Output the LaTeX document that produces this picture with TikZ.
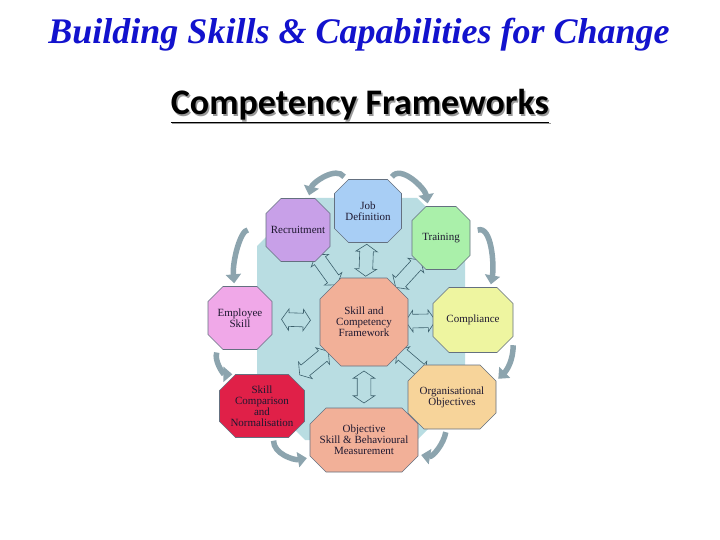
\documentclass[tikz,border=0pt]{standalone}
\usepackage{fontspec}
\setmainfont{Liberation Serif}
\newfontfamily\calibrifont{Carlito}
\usepackage{tikz}
\usetikzlibrary{shapes.arrows,arrows.meta}
\pgfdeclarelayer{backdrop}
\pgfdeclarelayer{links}
\pgfsetlayers{backdrop,links,main}
\definecolor{titleblue}{RGB}{18,18,205}
\definecolor{backblue}{RGB}{185,221,226}
\definecolor{octline}{RGB}{100,112,128}
\definecolor{octtext}{RGB}{30,24,48}
\definecolor{arrline}{RGB}{60,96,108}
\definecolor{cycgray}{RGB}{140,164,174}
\definecolor{jobfill}{RGB}{168,206,245}
\definecolor{recfill}{RGB}{200,160,232}
\definecolor{trainfill}{RGB}{170,240,170}
\definecolor{empfill}{RGB}{240,168,232}
\definecolor{cenfill}{RGB}{242,176,152}
\definecolor{compfill}{RGB}{238,245,160}
\definecolor{scnfill}{RGB}{224,32,72}
\definecolor{orgfill}{RGB}{247,212,154}
\newcommand{\octfont}{\fontsize{11}{11}\selectfont}
\newcommand{\octpath}[4]{% centre, width, height, chamfer
  ({-#2/2+#4},{#3/2}) -- ({#2/2-#4},{#3/2}) -- ({#2/2},{#3/2-#4}) -- ({#2/2},{-#3/2+#4})
  -- ({#2/2-#4},{-#3/2}) -- ({-#2/2+#4},{-#3/2}) -- ({-#2/2},{-#3/2+#4}) -- ({-#2/2},{#3/2-#4}) -- cycle}
\newcommand{\octnode}[7]{% name, centre, width, height, chamfer, fill, text
  \draw[draw=octline, line width=0.6pt, fill=#6, shift={(#2)}] \octpath{#2}{#3}{#4}{#5};
  \node[oct, minimum width=#3, minimum height=#4] (#1) at (#2) {#7};}

\begin{document}
\begin{tikzpicture}[x=1pt,y=1pt,
  oct/.style={rectangle, align=center, inner sep=0pt, font=\octfont, text=octtext},
  dbl/.style={double arrow, draw=arrline, fill=backblue, line width=0.6pt, inner xsep=0pt, inner ysep=6.5pt,
    minimum width=21, minimum height=#1, double arrow head extend=4, double arrow tip angle=112},
  cyc/.style={draw=cycgray, line width=5.5pt, -{Triangle[width=15pt,length=9pt]},
    shorten <=3pt, shorten >=3pt}]
 \useasboundingbox (0,0) rectangle (720,-540);
 \node[anchor=base, text=titleblue, font=\fontsize{36}{40}\selectfont\bfseries\itshape] (title) at (359,-44)
   {Building Skills \& Capabilities for Change};
 \node[anchor=base, text=black!40, font=\fontsize{36}{40}\selectfont\calibrifont\bfseries] (subshadow) at (361.5,-116.5)
   {\underline{Competency Frameworks}};
 \node[anchor=base, text=black, font=\fontsize{36}{40}\selectfont\calibrifont\bfseries] (sub) at (360,-115)
   {\underline{Competency Frameworks}};
 \begin{pgfonlayer}{backdrop}
  \fill[white] (0,0) rectangle (720,-540);
  \fill[backblue, shift={(361,-319)}] \octpath{361,-319}{208}{242}{48};
 \end{pgfonlayer}
 \octnode{job}{368,-211}{67}{63}{14}{jobfill}{Job\\Definition}
 \octnode{rec}{298,-230}{64}{63}{15}{recfill}{Recruitment}
 \octnode{train}{441,-238}{58}{63}{14}{trainfill}{Training}
 \octnode{emp}{240,-318}{64}{63}{15}{empfill}{Employee\\Skill}
 \octnode{cen}{364,-322}{88}{88}{21}{cenfill}{Skill and\\Competency\\Framework}
 \octnode{comp}{473,-320}{80}{65}{16}{compfill}{Compliance}
 \octnode{scn}{262,-406}{85}{63}{16}{scnfill}{Skill\\Comparison\\and\\Normalisation}
 \octnode{org}{452,-397}{88}{64}{16}{orgfill}{Organisational\\Objectives}
 \octnode{obj}{364,-440}{108}{64}{16}{cenfill}{Objective\\Skill \& Behavioural\\Measurement}
 \begin{pgfonlayer}{links}
  \path (cen) -- (job) node[dbl=32, midway, sloped] {};
  \path (cen) -- (obj) node[dbl=32, midway, sloped] {};
  \path (cen) -- (emp) node[dbl=29, midway, sloped] {};
  \path (cen) -- (comp) node[dbl=30, midway, sloped] {};
  \path (cen) -- (rec) node[dbl=37, midway, sloped] {};
  \path (cen) -- (train) node[dbl=37, midway, sloped] {};
  \path (cen) -- (scn) node[dbl=37, pos=0.3, sloped] {};
  \path (cen) -- (org) node[dbl=37, midway, sloped] {};
 \end{pgfonlayer}
 \draw[cyc] (job.125) to[out=125, in=75] (rec.72);
 \draw[cyc] (job.55) to[out=55, in=100] (train.112);
 \draw[cyc, shorten <=8pt] (train.10) to[out=20, in=80] (comp.62);
 \draw[cyc, shorten <=2pt] (comp.-30) to[out=-90, in=45] (org.20);
 \draw[cyc] (org.-100) to[out=-100, in=-10] (obj.-15);
 \draw[cyc] (scn.-70) to[out=-90, in=-170] (obj.-162);
 \draw[cyc] (emp.-125) to[out=-110, in=180] (scn.130);
 \draw[cyc, shorten <=18pt] (rec.west) to[out=180, in=95] (emp.100);
\end{tikzpicture}
\end{document}
